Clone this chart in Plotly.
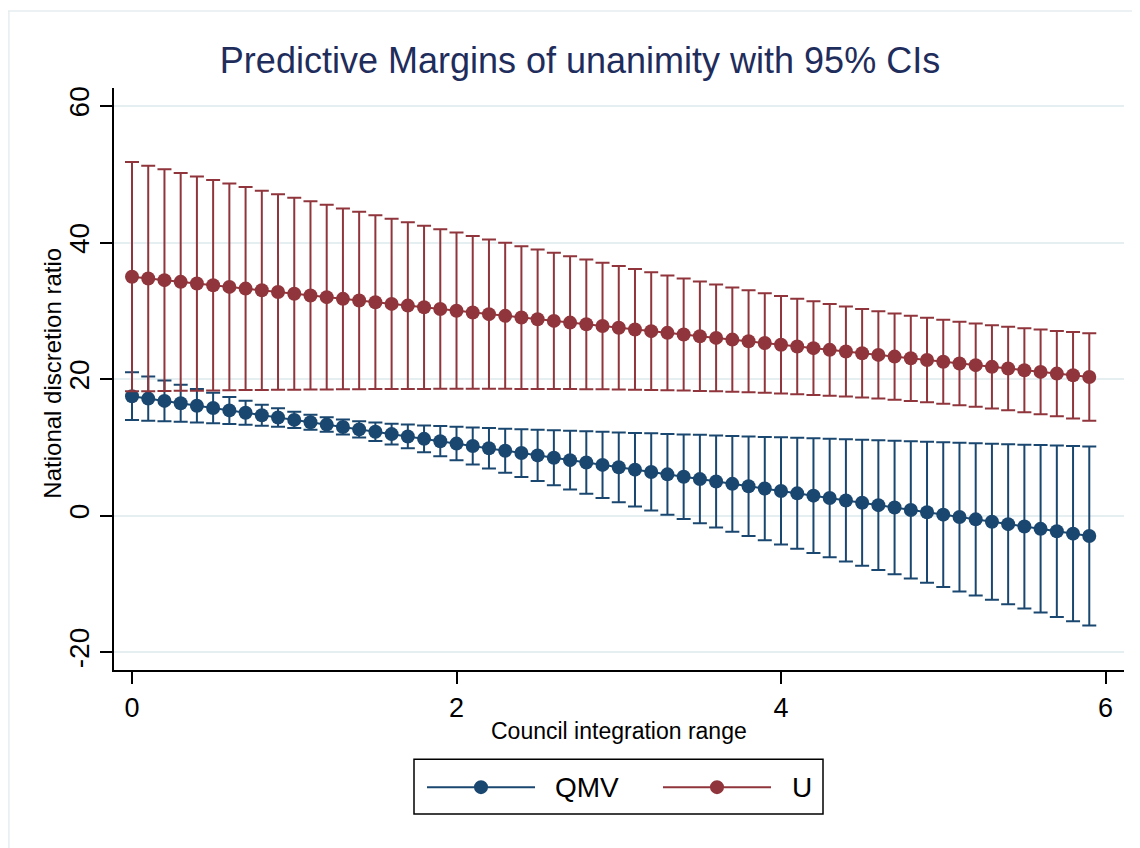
import plotly.graph_objects as go

# ---------------- data ----------------
x_vals = [round(i * 0.1, 1) for i in range(60)]

qmv_margin = [17.50, 17.15, 16.81, 16.46, 16.11, 15.77, 15.42, 15.07, 14.72, 14.38,
              14.03, 13.68, 13.34, 12.99, 12.64, 12.30, 11.95, 11.60, 11.25, 10.91,
              10.56, 10.21, 9.87, 9.52, 9.17, 8.83, 8.48, 8.13, 7.78, 7.44,
              7.09, 6.74, 6.40, 6.05, 5.70, 5.36, 5.01, 4.66, 4.31, 3.97,
              3.62, 3.27, 2.93, 2.58, 2.23, 1.89, 1.54, 1.19, 0.84, 0.50,
              0.15, -0.20, -0.54, -0.89, -1.24, -1.59, -1.93, -2.28, -2.63, -2.97]
qmv_ci = [3.50, 3.24, 2.98, 2.72, 2.46, 2.22, 1.98, 1.75, 1.54, 1.35,
          1.20, 1.09, 1.06, 1.09, 1.19, 1.35, 1.53, 1.74, 1.97, 2.21,
          2.46, 2.71, 2.97, 3.23, 3.50, 3.76, 4.03, 4.30, 4.57, 4.84,
          5.11, 5.38, 5.66, 5.93, 6.20, 6.48, 6.75, 7.02, 7.30, 7.57,
          7.85, 8.13, 8.40, 8.68, 8.95, 9.23, 9.50, 9.78, 10.06, 10.33,
          10.61, 10.89, 11.16, 11.44, 11.72, 11.99, 12.27, 12.55, 12.82, 13.10]

u_margin = [35.00, 34.75, 34.50, 34.25, 34.00, 33.76, 33.51, 33.26, 33.01, 32.76,
            32.51, 32.26, 32.01, 31.76, 31.51, 31.27, 31.02, 30.77, 30.52, 30.27,
            30.02, 29.77, 29.52, 29.27, 29.02, 28.78, 28.53, 28.28, 28.03, 27.78,
            27.53, 27.28, 27.03, 26.78, 26.53, 26.29, 26.04, 25.79, 25.54, 25.29,
            25.04, 24.79, 24.54, 24.29, 24.04, 23.80, 23.55, 23.30, 23.05, 22.80,
            22.55, 22.30, 22.05, 21.80, 21.55, 21.31, 21.06, 20.81, 20.56, 20.31]
u_ci = [16.79, 16.52, 16.24, 15.96, 15.69, 15.41, 15.14, 14.87, 14.59, 14.32,
        14.05, 13.79, 13.52, 13.25, 12.99, 12.73, 12.46, 12.21, 11.95, 11.69,
        11.44, 11.19, 10.94, 10.69, 10.45, 10.21, 9.97, 9.73, 9.50, 9.28,
        9.05, 8.84, 8.62, 8.41, 8.21, 8.02, 7.82, 7.64, 7.47, 7.30,
        7.14, 6.99, 6.85, 6.72, 6.60, 6.49, 6.40, 6.31, 6.24, 6.19,
        6.14, 6.12, 6.10, 6.10, 6.12, 6.15, 6.20, 6.25, 6.33, 6.41]

series_names = ["QMV", "U"]
x_ticks = [0, 2, 4, 6]
x_tick_text = ["0", "2", "4", "6"]
y_ticks = [-20, 0, 20, 40, 60]
y_tick_text = ["-20", "0", "20", "40", "60"]

title_text = "Predictive Margins of unanimity with 95% CIs"
x_title = "Council integration range"
y_title = "National discretion ratio"

# ---------------- style ----------------
W, H = 1140, 848
OFF = 8  # page body margin: screen position = figure position + 8
NAVY = "#1A476F"
MAROON = "#90353B"
GRID = "#E5EEF1"
FONT = "Liberation Sans, Arial, Helvetica, sans-serif"


def px(x):
    return (x - OFF) / W


def py(y):
    return 1 - (y - OFF) / H


fig = go.Figure()

for name, yv, ci, col in [(series_names[0], qmv_margin, qmv_ci, NAVY),
                          (series_names[1], u_margin, u_ci, MAROON)]:
    fig.add_trace(go.Scatter(
        x=x_vals, y=yv, name=name, mode="lines+markers",
        line=dict(color=col, width=2),
        marker=dict(color=col, size=14, line=dict(width=0)),
        error_y=dict(type="data", array=ci, symmetric=True, color=col,
                     thickness=2, width=7),
        showlegend=False,
    ))

fig.update_layout(
    width=W, height=H, autosize=False,
    margin=dict(l=0, r=0, t=0, b=0),
    paper_bgcolor="white", plot_bgcolor="white",
    font=dict(family=FONT, color="black"),
    title=dict(text=title_text, x=px(580), xanchor="center",
               y=py(60), yanchor="middle",
               font=dict(size=36, color="#1F2D5C", family=FONT)),
    xaxis=dict(domain=[px(114), px(1124)], range=[-0.111, 6.114],
               tickmode="array", tickvals=x_ticks, ticktext=x_tick_text,
               ticks="outside", ticklen=12, tickwidth=1.5, tickcolor="black",
               showline=True, linecolor="black", linewidth=1.5,
               showgrid=False, zeroline=False,
               tickfont=dict(size=27, color="black")),
    yaxis=dict(domain=[py(670), py(86)], range=[-22.67, 62.67],
               tickmode="array", tickvals=y_ticks, ticktext=y_tick_text,
               tickangle=-90,
               ticks="outside", ticklen=12, tickwidth=1.5, tickcolor="black",
               showline=True, linecolor="black", linewidth=1.5,
               showgrid=True, gridcolor=GRID, gridwidth=2, zeroline=False,
               tickfont=dict(size=28, color="black")),
)

annotations = [
    dict(text=x_title, x=px(619), y=py(731), xref="paper", yref="paper",
         xanchor="center", yanchor="middle", showarrow=False,
         font=dict(size=23, color="black")),
    dict(text=y_title, x=px(52.5), y=py(372), xref="paper", yref="paper",
         xanchor="center", yanchor="middle", textangle=-90, showarrow=False,
         font=dict(size=24, color="black")),
]

shapes = [
    # faint outer frame (left and top edges visible)
    dict(type="line", xref="paper", yref="paper", x0=0.0008, x1=0.0008,
         y0=py(9), y1=0, line=dict(color="#E6EEF0", width=1.5)),
    dict(type="line", xref="paper", yref="paper", x0=0, x1=1,
         y0=py(9), y1=py(9), line=dict(color="#E6EEF0", width=1.5)),
    # legend box
    dict(type="rect", xref="paper", yref="paper", x0=px(414), x1=px(823),
         y0=py(814), y1=py(759), line=dict(color="black", width=1.5),
         fillcolor="white"),
]

legend_items = [(series_names[0], NAVY, 427, 535, 481, 553),
                (series_names[1], MAROON, 663, 771, 717, 790)]
ly = 787
for name, col, lx0, lx1, mx, tx in legend_items:
    shapes.append(dict(type="line", xref="paper", yref="paper",
                       x0=px(lx0), x1=px(lx1), y0=py(ly), y1=py(ly),
                       line=dict(color=col, width=2)))
    shapes.append(dict(type="circle", xref="paper", yref="paper",
                       x0=px(mx - 7), x1=px(mx + 7),
                       y0=py(ly + 7), y1=py(ly - 7),
                       fillcolor=col, line=dict(color=col, width=0)))
    annotations.append(dict(text=name, x=px(tx), y=py(ly), xref="paper",
                            yref="paper", xanchor="left", yanchor="middle",
                            showarrow=False,
                            font=dict(size=28, color="black")))

fig.update_layout(shapes=shapes, annotations=annotations)

fig.write_html("out.html")
